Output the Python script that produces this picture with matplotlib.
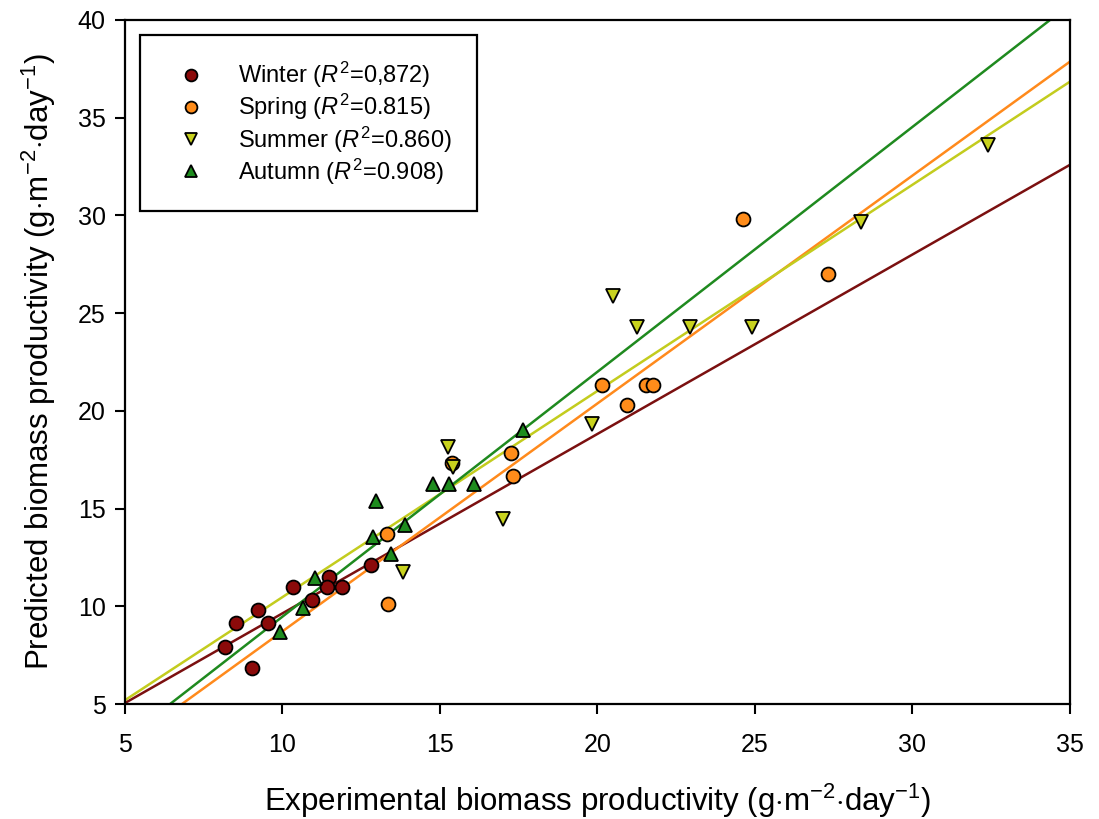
import numpy as np
import matplotlib
matplotlib.use("Agg")
import matplotlib.pyplot as plt

plt.rcParams['font.family'] = ['Liberation Sans', 'DejaVu Sans']
plt.rcParams['mathtext.fontset'] = 'custom'
plt.rcParams['mathtext.rm'] = 'Liberation Sans'
plt.rcParams['mathtext.it'] = 'Liberation Sans:italic'

# experimental (x) vs predicted (y) productivity
winter_x = [8.17, 8.52, 9.03, 9.22, 9.54, 10.33, 10.94, 11.48, 11.41, 11.89, 12.81]
winter_y = [7.92, 9.15, 6.84, 9.81, 9.15, 10.99, 10.32, 11.50, 10.99, 10.99, 12.11]

spring_x = [13.32, 13.35, 15.38, 17.25, 17.32, 20.14, 20.94, 21.54, 21.76, 24.62, 27.33]
spring_y = [13.70, 10.12, 17.33, 17.85, 16.67, 21.33, 20.30, 21.33, 21.33, 29.82, 26.98]

summer_x = [13.83, 15.25, 15.41, 17.00, 19.83, 20.49, 21.25, 22.94, 24.90, 28.37, 32.40]
summer_y = [11.76, 18.15, 17.13, 14.47, 19.33, 25.88, 24.29, 24.29, 24.29, 29.67, 33.61]

autumn_x = [9.92, 10.65, 11.03, 12.87, 12.97, 13.44, 13.89, 14.78, 15.29, 16.08, 17.63]
autumn_y = [8.68, 9.91, 11.45, 13.55, 15.39, 12.68, 14.16, 16.26, 16.26, 16.26, 19.02]

# fitted lines (slope, intercept) as drawn
fits = {
    "winter": (0.918, 0.46),
    "spring": (1.166, -2.94),
    "summer": (1.055, -0.08),
    "autumn": (1.253, -3.06),
}

labels = {
    "winter": r"Winter ($\mathit{R}^2$=0,872)",
    "spring": r"Spring ($\mathit{R}^2$=0.815)",
    "summer": r"Summer ($\mathit{R}^2$=0.860)",
    "autumn": r"Autumn ($\mathit{R}^2$=0.908)",
}

fig = plt.figure(figsize=(10.99, 8.19), dpi=100)
ax = fig.add_axes([0.1137, 0.1404, 0.8599, 0.8352])

xx = np.array([5, 35])
line_colors = {"winter": "#7b1010", "spring": "#ff8a1c", "summer": "#c3cc1e", "autumn": "#1f8a1f"}
for k in ["winter", "spring", "summer", "autumn"]:
    m, b = fits[k]
    ax.plot(xx, m * xx + b, color=line_colors[k], lw=1.8, zorder=2)

ms = 10
ax.plot(winter_x, winter_y, "o", ms=ms, mfc="#8b0a0a", mec="black", mew=1.3, ls="none",
        label=labels["winter"], zorder=3)
ax.plot(spring_x, spring_y, "o", ms=ms, mfc="#ff8c1a", mec="black", mew=1.3, ls="none",
        label=labels["spring"], zorder=3)
ax.plot(summer_x, summer_y, "v", ms=ms, mfc="#c8d21e", mec="black", mew=1.3, ls="none",
        label=labels["summer"], zorder=3)
ax.plot(autumn_x, autumn_y, "^", ms=ms, mfc="#1e8c1e", mec="black", mew=1.3, ls="none",
        label=labels["autumn"], zorder=3)

ax.set_xlim(5, 35)
ax.set_ylim(5, 40)
ax.set_xticks(range(5, 36, 5))
ax.set_yticks(range(5, 41, 5))
ax.tick_params(direction="out", length=7, width=1.5, labelsize=18)
ax.tick_params(axis="x", pad=14)
ax.tick_params(axis="y", pad=7)
for s in ax.spines.values():
    s.set_linewidth(1.6)

ax.set_xlabel(r"Experimental biomass productivity (g$\cdot$m$^{-2}$$\cdot$day$^{-1}$)", fontsize=22.5, labelpad=18)
ax.set_ylabel(r"Predicted biomass productivity (g$\cdot$m$^{-2}$$\cdot$day$^{-1}$)", fontsize=22.5, labelpad=14)

leg = ax.legend(loc="upper left", fontsize=17, frameon=True, fancybox=False, edgecolor="black",
                borderpad=1.05, labelspacing=0.08, handletextpad=0.9, borderaxespad=0.65,
                handlelength=2.2, markerscale=0.85, framealpha=1)
leg.get_frame().set_linewidth(1.6)

plt.savefig("out.png", dpi=100)
